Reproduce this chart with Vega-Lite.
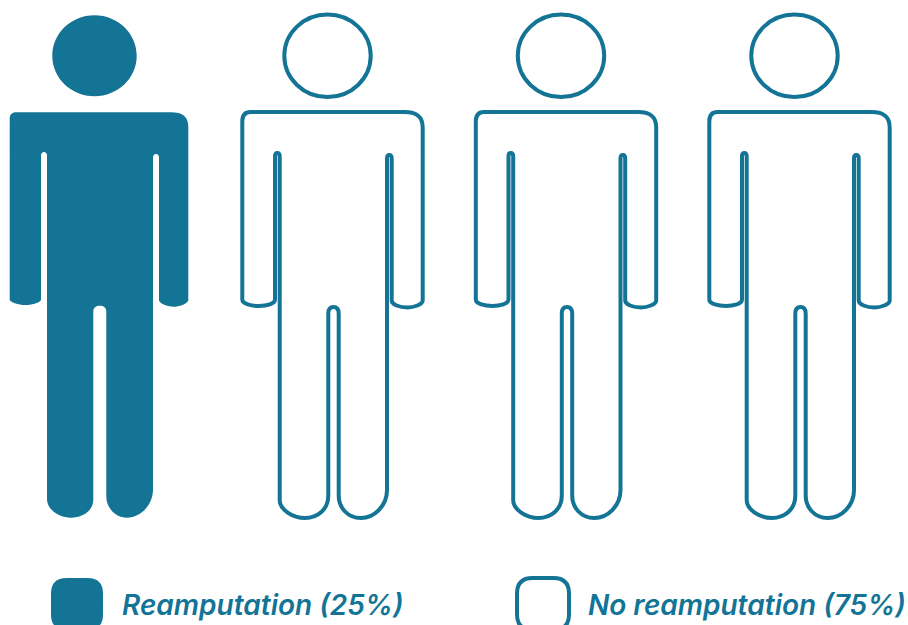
{
  "$schema": "https://vega.github.io/schema/vega-lite/v6.json",
  "width": 908,
  "height": 535,
  "padding": {"left": 0, "top": 0, "right": 0, "bottom": 90},
  "autosize": {"type": "none"},
  "background": "white",
  "view": {"stroke": null},
  "data": {
    "values": [
      {"person": 1, "outcome": "Reamputation (25%)"},
      {"person": 2, "outcome": "No reamputation (75%)"},
      {"person": 3, "outcome": "No reamputation (75%)"},
      {"person": 4, "outcome": "No reamputation (75%)"}
    ]
  },
  "encoding": {
    "x": {
      "field": "person",
      "type": "quantitative",
      "axis": null,
      "scale": {"domain": [0.576, 4.4647], "nice": false, "zero": false}
    },
    "fill": {
      "field": "outcome",
      "type": "nominal",
      "scale": {
        "domain": ["Reamputation (25%)", "No reamputation (75%)"],
        "range": ["#137496", "#ffffff"]
      },
      "legend": {
        "title": null,
        "orient": "none",
        "legendX": 49,
        "legendY": 576,
        "direction": "horizontal",
        "columns": 2,
        "padding": 0,
        "columnPadding": 105,
        "gridAlign": "each",
        "symbolType": "M -1 -0.4 C -1 -0.8 -0.8 -1 -0.4 -1 L 0.4 -1 C 0.8 -1 1 -0.8 1 -0.4 L 1 0.4 C 1 0.8 0.8 1 0.4 1 L -0.4 1 C -0.8 1 -1 0.8 -1 0.4 Z",
        "symbolSize": 2704,
        "symbolStrokeWidth": 4,
        "symbolStrokeColor": "#137496",
        "labelOffset": 17,
        "labelFont": "Inter",
        "labelFontSize": 28,
        "labelFontStyle": "italic",
        "labelFontWeight": 600,
        "labelColor": "#137496",
        "labelLimit": 500,
        "labelBaseline": "middle",
        "encoding": {
          "symbols": {
            "stroke": {"value": {"expr": "datum.value === 'Reamputation (25%)' ? 'transparent' : '#137496'"}},
            "opacity": {"value": 1}
          },
          "labels": {
            "dy": {"value": 3}
          }
        }
      }
    }
  },
  "layer": [
    {
      "transform": [{"filter": "datum.outcome === 'Reamputation (25%)'"}],
      "mark": {
        "type": "point",
        "filled": true,
        "opacity": 1,
        "size": 4,
        "strokeWidth": 0,
        "shape": "M -46.7 -211.7 C -46.7 -234.1 -27.8 -252.2 -4.5 -252.2 C 18.8 -252.2 37.7 -234.1 37.7 -211.7 C 37.7 -189.3 18.8 -171.2 -4.5 -171.2 C -27.8 -171.2 -46.7 -189.3 -46.7 -211.7 Z M -89.3 -149 C -89.3 -153.5 -86.5 -155.2 -82 -155.2 L 72 -155.2 C 83 -155.2 89.3 -151 89.3 -141 L 89.3 33.2 C 87 37 80 39.2 74.5 39.2 C 69 39.2 62 37 60 33 L 60 -110 C 60 -112.5 58.5 -113.5 57 -113.5 C 55.5 -113.5 54 -112.5 54 -110 L 54 222 C 54 238 41 250.2 28 250.2 C 16 250.2 7.3 240 7.3 229 L 7.3 44 C 7.3 40 4.5 38.2 0.8 38.2 C -3 38.2 -5.7 40 -5.7 44 L -5.7 232 C -5.7 243 -16 250.2 -28 250.2 C -40 250.2 -52 242 -52 232 L -52 -112 C -52 -114 -53.5 -115.5 -55 -115.5 C -56.5 -115.5 -58 -114 -58 -112 L -58 32.5 C -60 36 -68 37.5 -73.5 37.5 C -79 37.5 -87 36 -89.3 32.5 Z"
      }
    },
    {
      "transform": [{"filter": "datum.outcome !== 'Reamputation (25%)'"}],
      "mark": {
        "type": "point",
        "filled": true,
        "opacity": 1,
        "size": 4,
        "stroke": "#137496",
        "strokeWidth": 4,
        "strokeJoin": "round",
        "shape": "M -48.2 -211.7 C -48.2 -234.5 -28.9 -252.9 -5 -252.9 C 18.9 -252.9 38.2 -234.5 38.2 -211.7 C 38.2 -188.9 18.9 -170.5 -5 -170.5 C -28.9 -170.5 -48.2 -188.9 -48.2 -211.7 Z M -90.2 -146 C -90.2 -152 -87.5 -155.5 -82 -155.5 L 72 -155.5 C 84 -155.5 90.2 -151 90.2 -140 L 90.2 33 C 90.2 37 81 40 75 40 C 67 40 59.2 37 59.2 33 L 59.2 -109 C 59.2 -111.5 58 -112.5 56.8 -112.5 C 55.6 -112.5 54.5 -111.5 54.5 -109 L 54.5 222.5 C 54.5 238 42 250.5 28.2 250.5 C 15 250.5 6.2 240 6.2 228 L 6.2 46 C 6.2 41.5 4 39.5 1 39.5 C -2 39.5 -4.2 41.5 -4.2 46 L -4.2 228 C -4.2 242 -15 250.5 -27.5 250.5 C -40 250.5 -52.8 242 -52.8 232.5 L -52.8 -111 C -52.8 -113.5 -54 -114.5 -55.2 -114.5 C -56.4 -114.5 -57.5 -113.5 -57.5 -111 L -57.5 32 C -57.5 36.5 -66 38.5 -73.5 38.5 C -81 38.5 -90.2 36.5 -90.2 32 Z"
      }
    }
  ]
}
